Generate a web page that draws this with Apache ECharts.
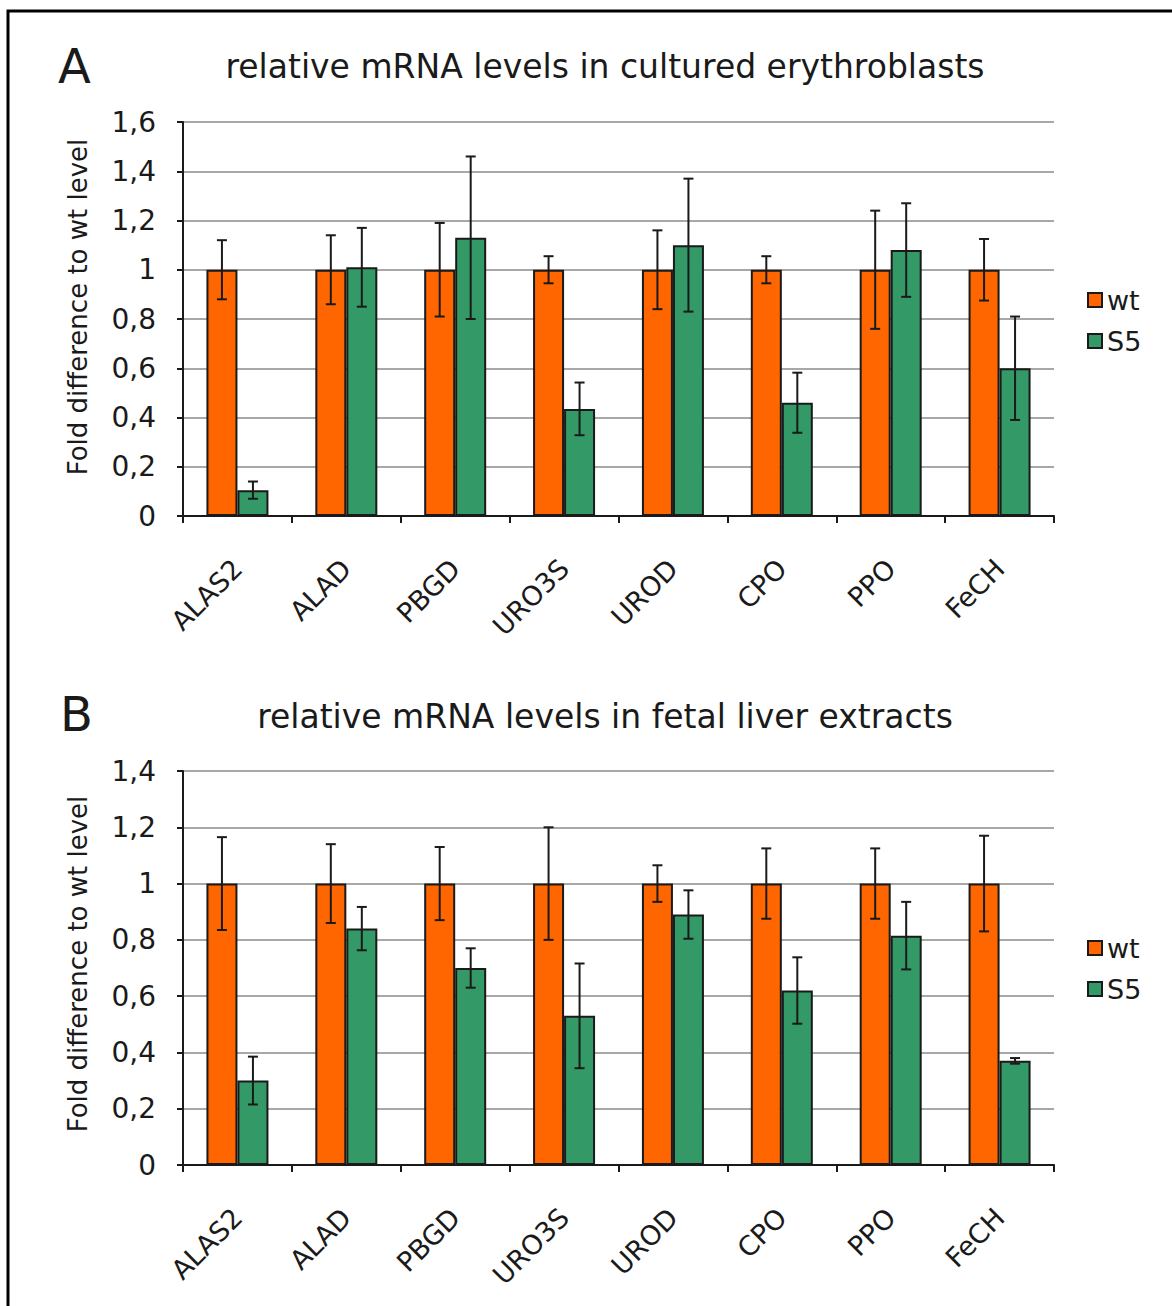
<!DOCTYPE html>
<html>
<head>
<meta charset="utf-8">
<script src="https://cdn.jsdelivr.net/npm/echarts@6/dist/echarts.min.js"></script>
<style>
  html, body { margin: 0; padding: 0; background: #fff; }
  #chart { width: 1172px; height: 1306px; }
</style>
</head>
<body>
<div id="chart"></div>
<script>
// Heme biosynthesis genes
const genes = ['ALAS2', 'ALAD', 'PBGD', 'URO3S', 'UROD', 'CPO', 'PPO', 'FeCH'];

// Panel A: cultured erythroblasts (mean and error)
const erythroWt = [1, 1, 1, 1, 1, 1, 1, 1];
const erythroWtErr = [0.12, 0.14, 0.19, 0.055, 0.16, 0.055, 0.24, 0.125];
const erythroS5 = [0.105, 1.01, 1.13, 0.435, 1.10, 0.46, 1.08, 0.60];
const erythroS5Err = [0.035, 0.16, 0.33, 0.107, 0.27, 0.122, 0.19, 0.21];

// Panel B: fetal liver extracts (mean and error)
const liverWt = [1, 1, 1, 1, 1, 1, 1, 1];
const liverWtErr = [0.165, 0.14, 0.13, 0.2, 0.065, 0.125, 0.125, 0.17];
const liverS5 = [0.30, 0.84, 0.70, 0.53, 0.89, 0.62, 0.815, 0.37];
const liverS5Err = [0.085, 0.077, 0.07, 0.186, 0.086, 0.118, 0.12, 0.01];

const FONT = 'DejaVu Sans';
const INK = '#1a1a1a';
const WT_COLOR = '#ff6600';
const S5_COLOR = '#339966';
const BAR_W = 31;

function errData(means, errs) {
  return means.map((m, i) => [i, m, errs[i]]);
}

// vertical whisker with end caps, shifted to sit on its bar
function whisker(shift) {
  return function (params, api) {
    const i = api.value(0), m = api.value(1), e = api.value(2);
    const hi = api.coord([i, m + e]);
    const lo = api.coord([i, m - e]);
    const x = hi[0] + shift;
    const cap = 5;
    const style = { stroke: INK, lineWidth: 2 };
    return {
      type: 'group',
      children: [
        { type: 'line', shape: { x1: x, y1: hi[1], x2: x, y2: lo[1] }, style },
        { type: 'line', shape: { x1: x - cap, y1: hi[1], x2: x + cap, y2: hi[1] }, style },
        { type: 'line', shape: { x1: x - cap, y1: lo[1], x2: x + cap, y2: lo[1] }, style }
      ]
    };
  };
}

function panelAxes(gridIndex, max, namePad) {
  return {
    x: {
      type: 'category', gridIndex, data: genes,
      axisLine: { lineStyle: { color: INK, width: 2 } },
      axisTick: { show: true, length: 7, lineStyle: { color: INK, width: 2 } },
      axisLabel: { rotate: 45, margin: 48, color: INK, fontFamily: FONT, fontSize: 27, interval: 0 },
      splitLine: { show: false }
    },
    y: {
      type: 'value', gridIndex, min: 0, max, interval: 0.2,
      name: 'Fold difference to wt level', nameLocation: 'middle', nameGap: 92,
      nameTextStyle: { color: INK, fontFamily: FONT, fontSize: 26, padding: [0, 0, 0, namePad] },
      axisLine: { show: true, lineStyle: { color: INK, width: 2 } },
      axisTick: { show: true, length: 6, lineStyle: { color: INK, width: 2 } },
      axisLabel: {
        margin: 27, color: INK, fontFamily: FONT, fontSize: 28,
        formatter: v => (Math.round(v * 10) / 10).toString().replace('.', ',')
      },
      splitLine: { show: true, lineStyle: { color: '#a8a8a8', width: 2 } }
    }
  };
}

function panelSeries(idx, wt, wtErr, s5, s5Err) {
  const bar = (name, data, color) => ({
    name, type: 'bar', xAxisIndex: idx, yAxisIndex: idx, data,
    barWidth: BAR_W, barGap: '0%',
    itemStyle: { color, borderColor: INK, borderWidth: 2 },
    emphasis: { disabled: true }, z: 2
  });
  const err = (name, means, errs, shift) => ({
    name, type: 'custom', xAxisIndex: idx, yAxisIndex: idx,
    data: errData(means, errs), renderItem: whisker(shift),
    encode: { x: 0, y: 1 }, z: 5, silent: true
  });
  return [
    bar('wt', wt, WT_COLOR),
    bar('S5', s5, S5_COLOR),
    err('wt error', wt, wtErr, -BAR_W / 2),
    err('S5 error', s5, s5Err, BAR_W / 2)
  ];
}

const axA = panelAxes(0, 1.6, 24);
const axB = panelAxes(1, 1.4, 8);

const legendBase = {
  orient: 'vertical', data: ['wt', 'S5'], icon: 'rect',
  itemWidth: 14, itemHeight: 14, itemGap: 13,
  textStyle: { color: INK, fontFamily: FONT, fontSize: 27, lineHeight: 28 },
  selectedMode: false
};

const chart = echarts.init(document.getElementById('chart'), null, { renderer: 'svg' });
chart.setOption({
  backgroundColor: '#fff',
  animation: false,
  grid: [
    { left: 183, right: 118, top: 122, height: 394 },
    { left: 183, right: 118, top: 771, height: 394 }
  ],
  xAxis: [axA.x, axB.x],
  yAxis: [axA.y, axB.y],
  legend: [
    Object.assign({ left: 1082, top: 281 }, legendBase),
    Object.assign({ left: 1082, top: 929 }, legendBase)
  ],
  series: [
    ...panelSeries(0, erythroWt, erythroWtErr, erythroS5, erythroS5Err),
    ...panelSeries(1, liverWt, liverWtErr, liverS5, liverS5Err)
  ],
  graphic: [
    { type: 'rect', shape: { x: 8, y: 11, width: 1300, height: 1400 },
      style: { fill: 'none', stroke: '#000', lineWidth: 3 }, silent: true },
    { type: 'text', left: 58, top: 42,
      style: { text: 'A', font: '48px "DejaVu Sans"', fill: INK } },
    { type: 'text', left: 60, top: 690,
      style: { text: 'B', font: '48px "DejaVu Sans"', fill: INK } },
    { type: 'text', x: 605, y: 66,
      style: { text: 'relative mRNA levels in cultured erythroblasts', font: '33px "DejaVu Sans"',
               fill: INK, textAlign: 'center', textVerticalAlign: 'middle' } },
    { type: 'text', x: 605, y: 716,
      style: { text: 'relative mRNA levels in fetal liver extracts', font: '33px "DejaVu Sans"',
               fill: INK, textAlign: 'center', textVerticalAlign: 'middle' } }
  ]
});
</script>
</body>
</html>
